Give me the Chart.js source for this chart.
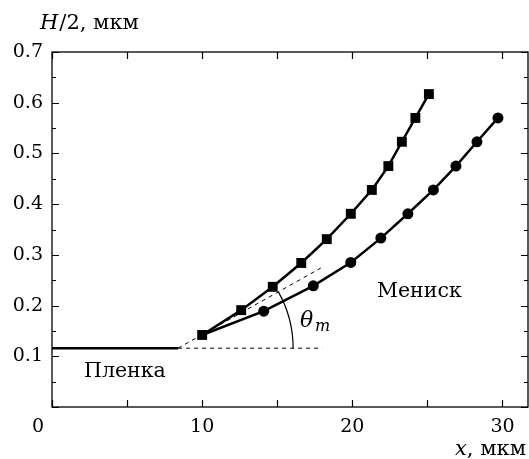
<!DOCTYPE html>
<html>
<head>
<meta charset="utf-8">
<script src="https://cdn.jsdelivr.net/npm/chart.js@4/dist/chart.umd.min.js"></script>
<style>
  html, body { margin: 0; padding: 0; background: #fff; overflow: hidden; }
  canvas { display: block; }
</style>
</head>
<body>
<canvas id="grafico" width="529" height="459"></canvas>
<script>
// data
var squareX = [10, 12.6, 14.7, 16.6, 18.3, 19.9, 21.3, 22.4, 23.3, 24.2, 25.1];
var squareY = [0.142, 0.191, 0.237, 0.284, 0.331, 0.381, 0.428, 0.475, 0.523, 0.570, 0.617];
var circleX = [10, 14.1, 17.4, 19.9, 21.9, 23.7, 25.4, 26.9, 28.3, 29.7];
var circleY = [0.142, 0.189, 0.239, 0.285, 0.333, 0.381, 0.428, 0.475, 0.523, 0.570];
var filmX = [0, 8.4];
var filmY = [0.116, 0.116];
var baseX = [8.4, 18];
var baseY = [0.116, 0.116];
var tangentX = [8.4, 17.9];
var tangentY = [0.116, 0.274];

var xTicks = [0, 5, 10, 15, 20, 25, 30];
var yTicks = [0, 0.05, 0.1, 0.15, 0.2, 0.25, 0.3, 0.35, 0.4, 0.45, 0.5, 0.55, 0.6, 0.65, 0.7];
var xMin = 0, xMax = 31.7, yMin = 0, yMax = 0.7;

var serif = '"DejaVu Serif", "Liberation Serif", serif';

function pts(xs, ys) {
  var out = [];
  for (var i = 0; i < xs.length; i++) out.push({ x: xs[i], y: ys[i] });
  return out;
}

var extras = {
  id: 'extras',
  afterDraw: function (chart) {
    var ctx = chart.ctx, a = chart.chartArea;
    var sx = chart.scales.x, sy = chart.scales.y;
    ctx.save();
    ctx.strokeStyle = '#000';
    ctx.fillStyle = '#000';
    // frame
    ctx.lineWidth = 1.3;
    ctx.strokeRect(a.left, a.top, a.right - a.left, a.bottom - a.top);
    // inward ticks
    ctx.lineWidth = 1.2;
    ctx.beginPath();
    xTicks.forEach(function (v) {
      var px = Math.round(sx.getPixelForValue(v)) + 0.5;
      ctx.moveTo(px, a.bottom); ctx.lineTo(px, a.bottom - 7);
      ctx.moveTo(px, a.top); ctx.lineTo(px, a.top + 7);
    });
    yTicks.forEach(function (v) {
      var len = Math.abs(v * 10 - Math.round(v * 10)) < 1e-6 ? 7 : 4;
      var py = Math.round(sy.getPixelForValue(v)) + 0.5;
      ctx.moveTo(a.left, py); ctx.lineTo(a.left + len, py);
      ctx.moveTo(a.right, py); ctx.lineTo(a.right - len, py);
    });
    ctx.stroke();

    // angle arc
    var cx = sx.getPixelForValue(tangentX[0]), cy = sy.getPixelForValue(tangentY[0]);
    var ex = sx.getPixelForValue(tangentX[1]), ey = sy.getPixelForValue(tangentY[1]);
    var ang = Math.atan2(ey - cy, ex - cx);
    ctx.lineWidth = 1.2;
    ctx.beginPath();
    ctx.arc(cx, cy, 115, ang, 0);
    ctx.stroke();

    // texts
    ctx.textBaseline = 'alphabetic';
    ctx.textAlign = 'left';
    ctx.font = 'italic 21px ' + serif;
    ctx.fillText('H', 40, 29);
    var w = ctx.measureText('H').width;
    ctx.font = '21px ' + serif;
    ctx.fillText('/2, мкм', 40 + w + 1, 29);

    ctx.font = 'italic 21px ' + serif;
    ctx.fillText('x', 455, 455);
    w = ctx.measureText('x').width;
    ctx.font = '21px ' + serif;
    ctx.fillText(', мкм', 455 + w, 455);

    ctx.font = '19px ' + serif;
    ctx.fillText('0', 32, 432);
    ctx.font = '20.5px ' + serif;
    ctx.fillText('Пленка', 84, 377);
    ctx.fillText('Мениск', 377, 297);

    ctx.font = 'italic 22px ' + serif;
    ctx.fillText('θ', 300, 327);
    ctx.font = 'italic 16px ' + serif;
    ctx.fillText('m', 315, 331);
    ctx.restore();
  }
};

var ctx = document.getElementById('grafico').getContext('2d');
var chart = new Chart(ctx, {
  type: 'scatter',
  data: {
    datasets: [
      {
        label: 'squares',
        data: pts(squareX, squareY),
        showLine: true,
        borderColor: '#000',
        backgroundColor: '#000',
        borderWidth: 2.5,
        pointStyle: 'rect',
        pointRadius: 7,
        pointBorderWidth: 0,
        order: 0
      },
      {
        label: 'circles',
        data: pts(circleX, circleY),
        showLine: true,
        borderColor: '#000',
        backgroundColor: '#000',
        borderWidth: 2.5,
        pointStyle: 'circle',
        pointRadius: circleX.map(function (v, i) { return i === 0 ? 0 : 5.5; }),
        pointBorderWidth: 0,
        order: 1
      },
      {
        label: 'film',
        data: pts(filmX, filmY),
        showLine: true,
        borderColor: '#000',
        borderWidth: 2.5,
        pointRadius: 0,
        order: 2
      },
      {
        label: 'base',
        data: pts(baseX, baseY),
        showLine: true,
        borderColor: '#000',
        borderWidth: 1,
        borderDash: [4, 4],
        pointRadius: 0,
        order: 3
      },
      {
        label: 'tangent',
        data: pts(tangentX, tangentY),
        showLine: true,
        borderColor: '#000',
        borderWidth: 1,
        borderDash: [4, 4],
        pointRadius: 0,
        order: 3
      }
    ]
  },
  options: {
    responsive: false,
    animation: false,
    layout: { autoPadding: false, padding: { top: 52, right: 1, left: 0, bottom: 0 } },
    plugins: {
      legend: { display: false },
      tooltip: { enabled: false }
    },
    scales: {
      x: {
        type: 'linear',
        min: xMin,
        max: xMax,
        grid: { display: false, drawTicks: false },
        border: { display: false },
        afterBuildTicks: function (s) { s.ticks = xTicks.map(function (v) { return { value: v }; }); },
        afterFit: function (s) { s.height = 52; s.paddingLeft = 0; s.paddingRight = 0; },
        ticks: {
          autoSkip: false,
          padding: 9,
          color: '#000',
          font: { family: serif, size: 19 },
          callback: function (v) { return (v % 10 === 0 && v !== 0) ? String(v) : ''; }
        }
      },
      y: {
        type: 'linear',
        min: yMin,
        max: yMax,
        grid: { display: false, drawTicks: false },
        border: { display: false },
        afterBuildTicks: function (s) { s.ticks = yTicks.map(function (v) { return { value: v }; }); },
        afterFit: function (s) { s.width = 52; s.paddingTop = 0; s.paddingBottom = 0; },
        ticks: {
          autoSkip: false,
          padding: 9,
          color: '#000',
          font: { family: serif, size: 19 },
          callback: function (v) {
            var major = Math.abs(v * 10 - Math.round(v * 10)) < 1e-6;
            return (major && v > 0) ? v.toFixed(1) : '';
          }
        }
      }
    }
  },
  plugins: [extras]
});
</script>
</body>
</html>
